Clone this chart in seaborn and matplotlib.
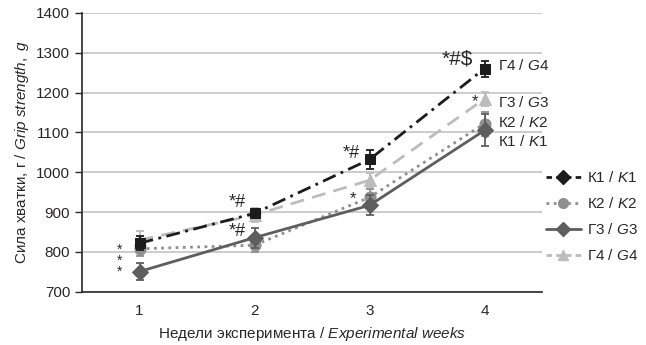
import matplotlib
matplotlib.use("Agg")
import matplotlib.pyplot as plt
from matplotlib.lines import Line2D
from matplotlib import font_manager
import seaborn as sns
import pandas as pd

# ---- data -------------------------------------------------------------
weeks = [1, 2, 3, 4]
g4_mean = [822, 897, 1032, 1260]   # black squares, dash-dot
g3_mean = [830, 893, 980, 1184]    # light grey triangles, dashed
k2_mean = [808, 817, 937, 1122]    # grey circles, dotted
k1_mean = [751, 836, 917, 1105]    # dark grey diamonds, solid
g4_err = [18, 12, 25, 20]
g3_err = [22, 18, 18, 18]
k2_err = [18, 18, 20, 30]
k1_err = [22, 25, 25, 40]
end_labels = ["Г4 / $\\mathit{G4}$", "Г3 / $\\mathit{G3}$",
              "К2 / $\\mathit{K2}$", "К1 / $\\mathit{K1}$"]
legend_labels = ["К1 / $\\mathit{K1}$", "К2 / $\\mathit{K2}$",
                 "Г3 / $\\mathit{G3}$", "Г4 / $\\mathit{G4}$"]
y_ticks = [700, 800, 900, 1000, 1100, 1200, 1300, 1400]

# ---- style ------------------------------------------------------------
sns.set_theme(style="white")
names = {f.name for f in font_manager.fontManager.ttflist}
base = "Liberation Sans Narrow" if "Liberation Sans Narrow" in names else "Liberation Sans"
plt.rcParams["font.family"] = [base, "DejaVu Sans"]
plt.rcParams["mathtext.fontset"] = "custom"
plt.rcParams["mathtext.rm"] = base
plt.rcParams["mathtext.it"] = base + ":italic"
plt.rcParams["mathtext.bf"] = base + ":bold"

TXT = "#2a2728"
C_BLACK = "#1c1c1c"
C_LIGHT = "#bcbcbc"
C_MID = "#8f8f8f"
C_DARK = "#5e5e5e"

df = pd.DataFrame({
    "week": weeks * 4,
    "value": g4_mean + g3_mean + k2_mean + k1_mean,
    "group": ["G4"] * 4 + ["G3"] * 4 + ["K2"] * 4 + ["K1"] * 4,
})

fig = plt.figure(figsize=(6.46, 3.45), dpi=100)
ax = fig.add_axes([0.127, 0.154, 0.712, 0.809])

series = [
    ("K1", k1_mean, k1_err, C_DARK, "-", "D", 8, 4),
    ("K2", k2_mean, k2_err, C_MID, (0, (1, 1.6)), "o", 8, 3),
    ("G3", g3_mean, g3_err, C_LIGHT, (0, (5, 3)), "^", 8, 2),
    ("G4", g4_mean, g4_err, C_BLACK, (0, (5, 2, 1, 2)), "s", 7, 5),
]
for name, mean, err, col, ls, mk, ms, z in series:
    sub = df[df["group"] == name]
    sns.lineplot(data=sub, x="week", y="value", ax=ax, color=col,
                 linestyle=ls, linewidth=2.0, marker=mk, markersize=ms,
                 markeredgecolor=col, errorbar=None, zorder=z)
    ax.errorbar(weeks, mean, yerr=err, fmt="none", ecolor=col,
                elinewidth=1.3, capsize=3, capthick=1.3, zorder=z)

# ---- axes -------------------------------------------------------------
ax.set_xlim(0.5, 4.5)
ax.set_ylim(700, 1400)
ax.set_yticks(y_ticks)
ax.set_xticks(weeks)
ax.set_xticks([0.5, 1.5, 2.5, 3.5, 4.5], minor=True)
ax.tick_params(axis="x", which="major", length=0, pad=9, labelsize=11, colors=TXT)
ax.tick_params(axis="x", which="minor", length=5, width=1, color=TXT, direction="out")
ax.tick_params(axis="y", length=5, width=1, color=TXT, direction="out",
               labelsize=11, labelcolor=TXT, left=True)
ax.yaxis.grid(True, color="#c4c4c4", linewidth=1.2)
ax.set_axisbelow(True)
for s in ["top", "right"]:
    ax.spines[s].set_visible(False)
for s in ["left", "bottom"]:
    ax.spines[s].set_color(TXT)
    ax.spines[s].set_linewidth(1.2)

ax.set_xlabel("Недели эксперимента / $\\mathit{Experimental\\ weeks}$",
              fontsize=11, color=TXT, labelpad=5)
ax.set_ylabel("Сила хватки, г / $\\mathit{Grip\\ strength,\\ g}$",
              fontsize=11, color=TXT, labelpad=4)

# ---- significance marks -----------------------------------------------
ann = dict(color=TXT, ha="center", va="center")
ax.text(0.83, 778, "*\n*\n*", fontsize=10, linespacing=0.75, **ann)
ax.text(1.85, 924, "*#", fontsize=13, **ann)
ax.text(1.85, 851, "*#", fontsize=13, **ann)
ax.text(2.845, 1047, "*#", fontsize=13, **ann)
ax.text(2.86, 933, "*", fontsize=12, **ann)
ax.text(3.76, 1285, "*#$", fontsize=15, **ann)
ax.text(3.92, 1176, "*", fontsize=12, **ann)

for lab, yv in zip(end_labels, [1268, 1176, 1126, 1076]):
    ax.text(4.12, yv, lab, fontsize=11, color=TXT, ha="left", va="center")

# ---- legend -----------------------------------------------------------
handles = [
    Line2D([], [], color=C_BLACK, ls=(0, (2, 1.5)), lw=2, marker="D", ms=7),
    Line2D([], [], color=C_MID, ls=(0, (1, 1.6)), lw=2, marker="o", ms=7),
    Line2D([], [], color=C_DARK, ls="-", lw=2, marker="D", ms=7),
    Line2D([], [], color=C_LIGHT, ls=(0, (2, 1.5)), lw=2, marker="^", ms=7),
]
leg = fig.legend(handles, legend_labels, loc="upper left",
                 bbox_to_anchor=(0.835, 0.525), frameon=False, fontsize=11,
                 handlelength=2.3, handletextpad=0.4, labelspacing=0.72,
                 borderaxespad=0)
for t in leg.get_texts():
    t.set_color(TXT)

fig.savefig("out.png", dpi=100, facecolor="white")
